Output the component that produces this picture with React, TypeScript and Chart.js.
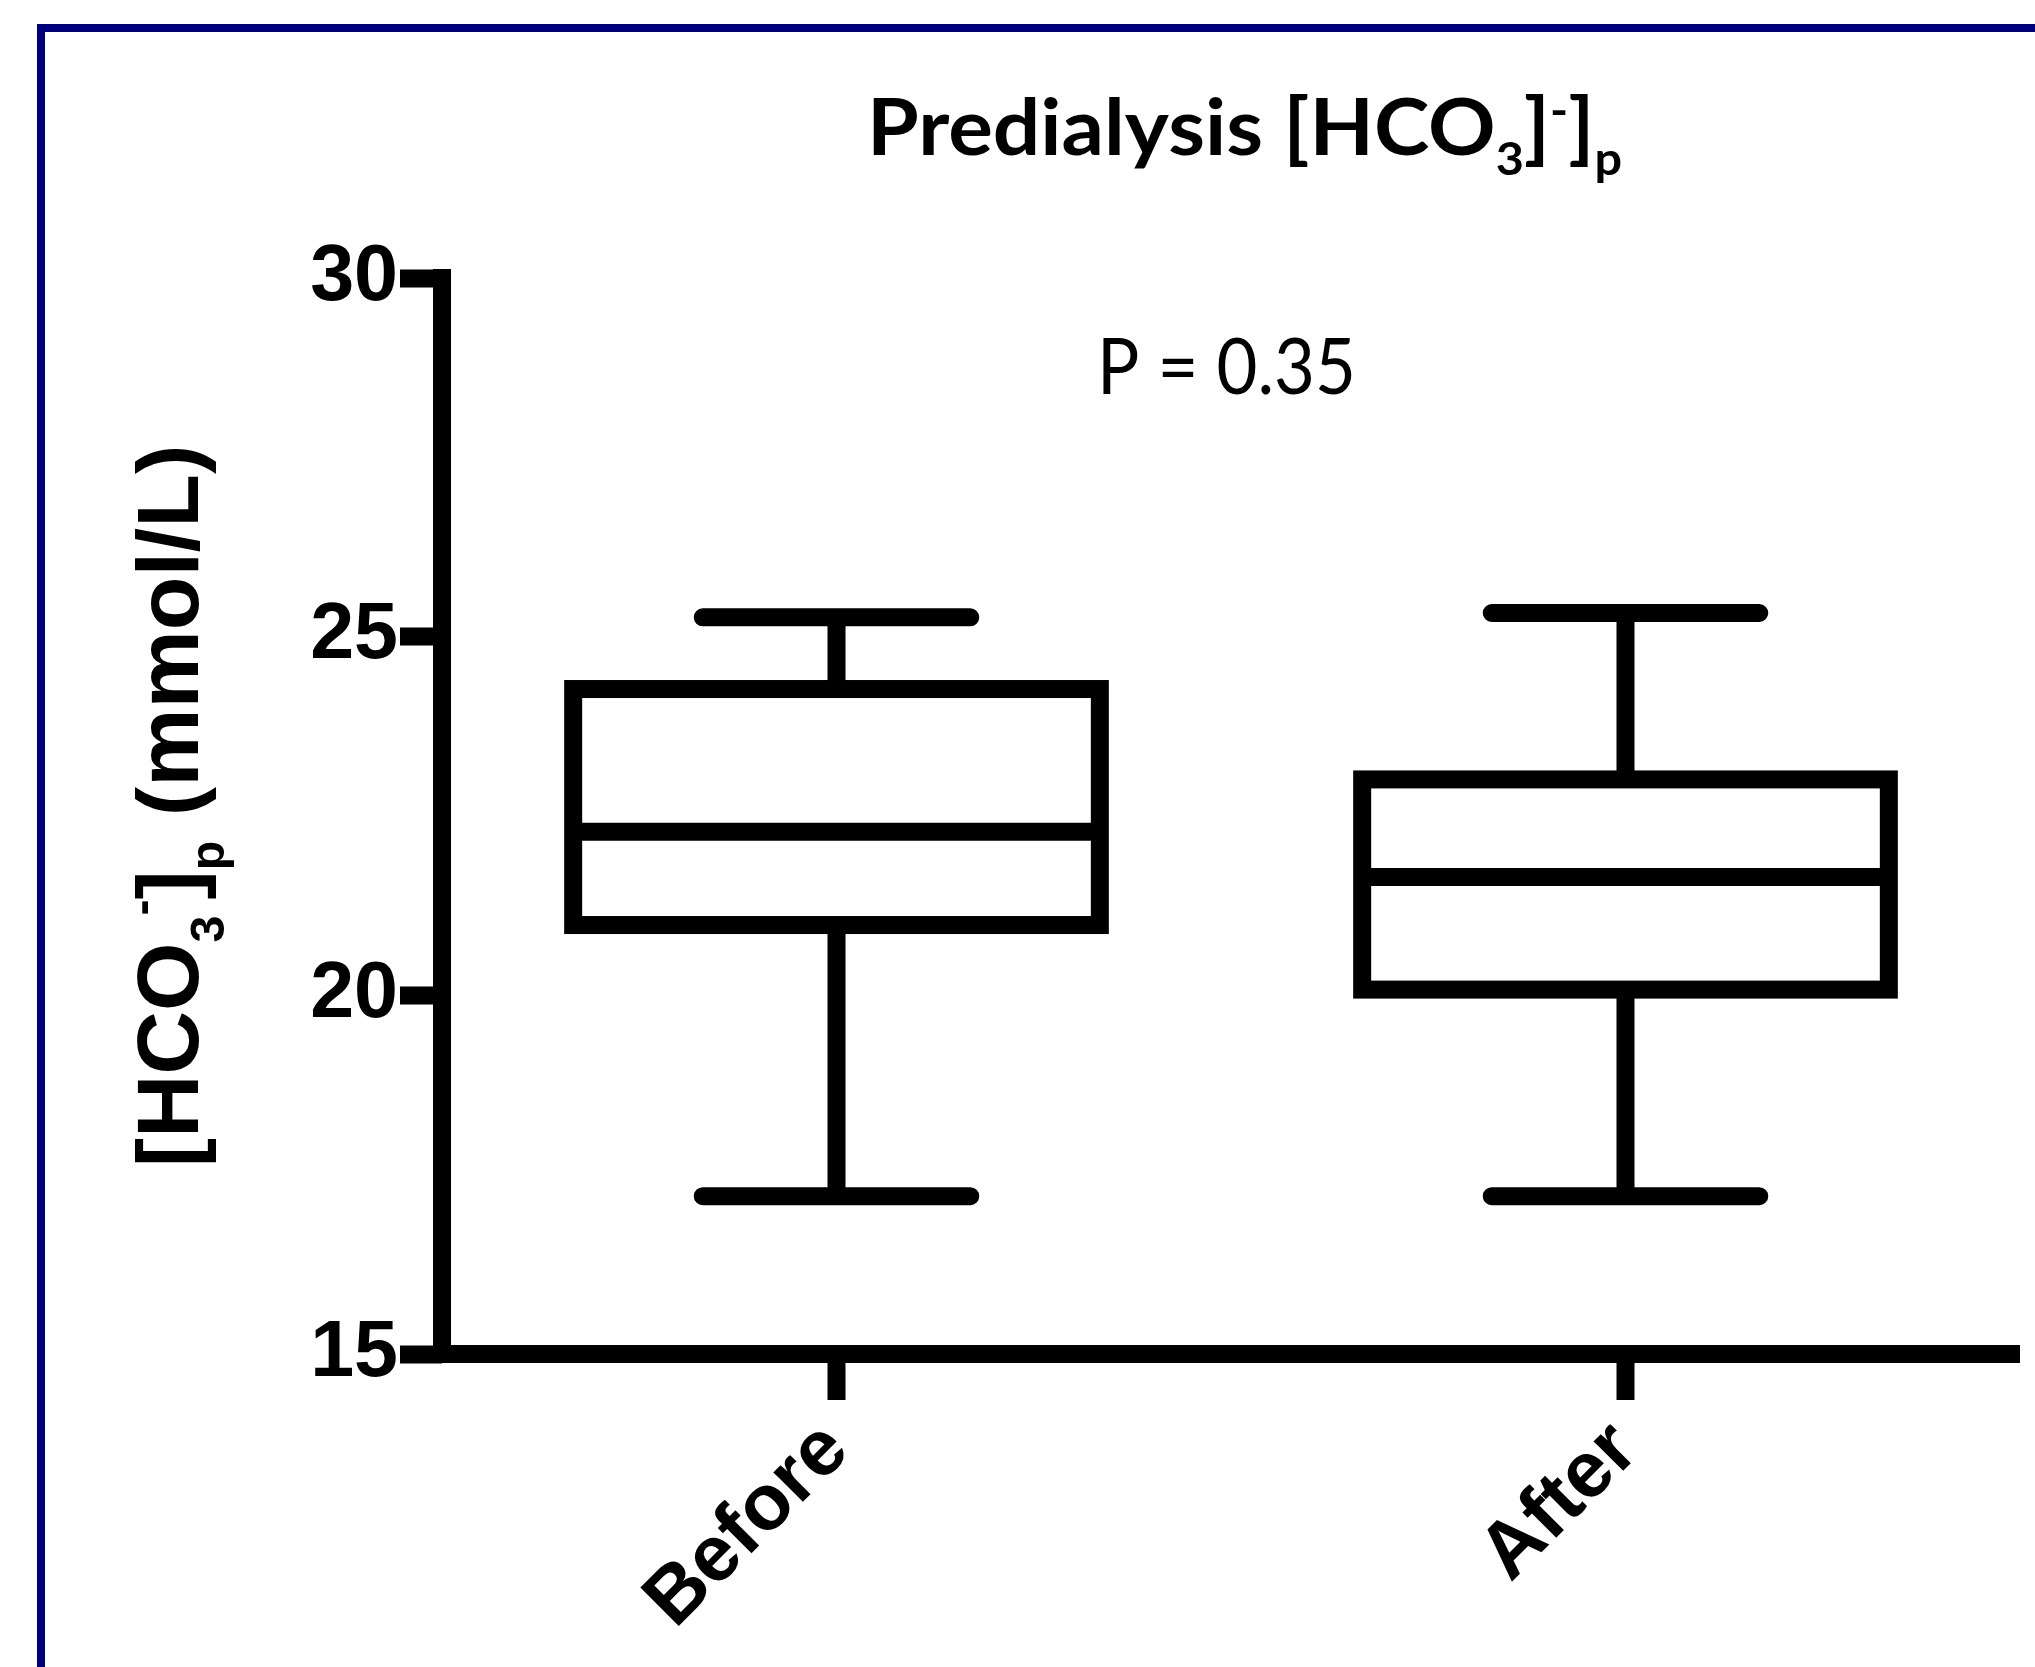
import React, { useEffect, useRef } from "react";
import { Chart, registerables } from "chart.js";

Chart.register(...registerables);

// ---------- data ----------
const categories = ["Before", "After"];
const whiskerMin = [17.2, 17.2];
const quartile1 = [20.98, 20.08];
const medians = [22.28, 21.65];
const quartile3 = [24.27, 23.01];
const whiskerMax = [25.27, 25.33];
const yTickValues = [15, 20, 25, 30];
const yMin = 15;
const yMax = 30;

type Part = { text: string; kind: "n" | "sub" | "sup" };
const titleParts: Part[] = [
  { text: "Predialysis [HCO", kind: "n" },
  { text: "3", kind: "sub" },
  { text: "]", kind: "n" },
  { text: "-", kind: "sup" },
  { text: "]", kind: "n" },
  { text: "p", kind: "sub" },
];
const yTitleParts: Part[] = [
  { text: "[HCO", kind: "n" },
  { text: "3", kind: "sub" },
  { text: "-", kind: "sup" },
  { text: "]", kind: "n" },
  { text: "p", kind: "sub" },
  { text: " (mmol/L)", kind: "n" },
];
const pValueText = "P = 0.35";

// ---------- styles ----------
const TITLE_FAMILY = "Lato, 'Open Sans', sans-serif";
const AXIS_FAMILY = "'Liberation Sans', Arial, sans-serif";
const LINE_W = 18;

function partFont(p: Part, size: number, weight: string, family: string, subScale: number) {
  const fs = p.kind === "n" ? size : size * subScale;
  return `${weight} ${fs}px ${family}`;
}

function measureParts(ctx: CanvasRenderingContext2D, parts: Part[], size: number, weight: string, family: string, subScale: number) {
  let w = 0;
  for (const p of parts) {
    ctx.font = partFont(p, size, weight, family, subScale);
    w += ctx.measureText(p.text).width;
  }
  return w;
}

function drawParts(
  ctx: CanvasRenderingContext2D,
  parts: Part[],
  x: number,
  y: number,
  size: number,
  weight: string,
  family: string,
  subScale: number,
  subShift: number,
  supShift: number
) {
  let cx = x;
  ctx.textAlign = "left";
  ctx.textBaseline = "alphabetic";
  for (const p of parts) {
    ctx.font = partFont(p, size, weight, family, subScale);
    const dy = p.kind === "sub" ? size * subShift : p.kind === "sup" ? -size * supShift : 0;
    ctx.fillText(p.text, cx, y + dy);
    cx += ctx.measureText(p.text).width;
  }
}

const framePlugin = {
  id: "frame",
  beforeDraw(chart: any) {
    const ctx = chart.ctx as CanvasRenderingContext2D;
    ctx.save();
    ctx.fillStyle = "#ffffff";
    ctx.fillRect(0, 0, chart.width, chart.height);
    ctx.strokeStyle = "#00007f";
    ctx.lineWidth = 8;
    ctx.strokeRect(41, 28, 5000, 5000);
    ctx.restore();
  },
};

const boxPlugin = {
  id: "boxWhisker",
  afterDatasetsDraw(chart: any) {
    const ctx = chart.ctx as CanvasRenderingContext2D;
    const ys = chart.scales.y;
    const meta = chart.getDatasetMeta(0);
    ctx.save();
    ctx.strokeStyle = "#000";
    ctx.lineWidth = LINE_W;
    meta.data.forEach((bar: any, i: number) => {
      const { x, width } = bar.getProps(["x", "width"], true);
      const left = x - width / 2;
      const right = x + width / 2;
      const yq1 = ys.getPixelForValue(quartile1[i]);
      const yq3 = ys.getPixelForValue(quartile3[i]);
      const ymed = ys.getPixelForValue(medians[i]);
      const ymin = ys.getPixelForValue(whiskerMin[i]);
      const ymax = ys.getPixelForValue(whiskerMax[i]);
      // whiskers
      ctx.lineCap = "butt";
      ctx.beginPath();
      ctx.moveTo(x, yq3);
      ctx.lineTo(x, ymax);
      ctx.moveTo(x, yq1);
      ctx.lineTo(x, ymin);
      ctx.stroke();
      // caps
      const capHalf = width * 0.254;
      ctx.lineCap = "round";
      ctx.beginPath();
      ctx.moveTo(x - capHalf, ymax);
      ctx.lineTo(x + capHalf, ymax);
      ctx.moveTo(x - capHalf, ymin);
      ctx.lineTo(x + capHalf, ymin);
      ctx.stroke();
      // box
      ctx.lineCap = "butt";
      ctx.lineJoin = "miter";
      ctx.strokeRect(left, yq3, width, yq1 - yq3);
      // median
      ctx.beginPath();
      ctx.moveTo(left, ymed);
      ctx.lineTo(right, ymed);
      ctx.stroke();
    });
    ctx.restore();
  },
};

const axesAndTextPlugin = {
  id: "axesAndText",
  afterDraw(chart: any) {
    const ctx = chart.ctx as CanvasRenderingContext2D;
    const area = chart.chartArea;
    ctx.save();
    // axis lines
    ctx.strokeStyle = "#000";
    ctx.lineWidth = LINE_W;
    ctx.lineCap = "square";
    ctx.beginPath();
    ctx.moveTo(area.left, area.top);
    ctx.lineTo(area.left, area.bottom);
    ctx.stroke();
    ctx.lineCap = "butt";
    ctx.beginPath();
    ctx.moveTo(area.left - LINE_W / 2, area.bottom);
    ctx.lineTo(area.right, area.bottom);
    ctx.stroke();

    ctx.fillStyle = "#000";
    // title
    {
      const size = 78;
      const w = measureParts(ctx, titleParts, size, "bold", TITLE_FAMILY, 0.58);
      const target = 755;
      const sx = target / w;
      ctx.save();
      ctx.translate(1244.5 - target / 2, 155);
      ctx.scale(sx, 1);
      drawParts(ctx, titleParts, 0, 0, size, "bold", TITLE_FAMILY, 0.58, 0.26, 0.36);
      ctx.restore();
    }
    // p value
    {
      const size = 77;
      ctx.font = `normal ${size}px ${TITLE_FAMILY}`;
      const w = ctx.measureText(pValueText).width;
      const target = 259;
      const sx = target / w;
      ctx.save();
      ctx.translate(1226.5 - target / 2, 394);
      ctx.scale(sx, 1);
      ctx.textAlign = "left";
      ctx.textBaseline = "alphabetic";
      ctx.fillText(pValueText, 0, 0);
      ctx.restore();
    }
    // y axis title
    {
      const size = 88;
      const w = measureParts(ctx, yTitleParts, size, "bold", AXIS_FAMILY, 0.55);
      ctx.save();
      ctx.translate(198, 806);
      ctx.rotate(-Math.PI / 2);
      drawParts(ctx, yTitleParts, -w / 2, 0, size, "bold", AXIS_FAMILY, 0.55, 0.3, 0.45);
      ctx.restore();
    }
    ctx.restore();
  },
};

export default function App() {
  const ref = useRef<HTMLCanvasElement>(null);
  useEffect(() => {
    if (!ref.current) return;
    const tickFont = { family: AXIS_FAMILY, size: 79, weight: "bold" as const };
    const chart = new Chart(ref.current, {
      type: "bar",
      data: {
        labels: categories,
        datasets: [
          {
            label: "IQR",
            data: categories.map((_, i) => [quartile1[i], quartile3[i]]) as any,
            backgroundColor: "rgba(0,0,0,0)",
            borderWidth: 0,
            categoryPercentage: 1,
            barPercentage: 0.6675,
          },
        ],
      },
      options: {
        animation: false,
        responsive: false,
        devicePixelRatio: 1,
        layout: { padding: { top: 278, right: 15, left: 0, bottom: 0 } },
        plugins: {
          legend: { display: false },
          tooltip: { enabled: false },
          title: { display: false },
        },
        scales: {
          x: {
            type: "category",
            offset: true,
            grid: {
              offset: false,
              drawOnChartArea: false,
              drawTicks: true,
              tickLength: 46,
              tickWidth: LINE_W,
              tickColor: "#000",
            },
            border: { display: false },
            ticks: {
              color: "#000",
              font: tickFont,
              maxRotation: 45,
              minRotation: 45,
              padding: 4,
            },
            afterFit: (scale: any) => {
              scale.height = 313;
            },
          },
          y: {
            type: "linear",
            min: yMin,
            max: yMax,
            grid: {
              drawOnChartArea: false,
              drawTicks: true,
              tickLength: 42,
              tickWidth: LINE_W,
              tickColor: "#000",
            },
            border: { display: false },
            ticks: {
              color: "#000",
              font: tickFont,
              padding: 2,
              stepSize: 5,
            },
            afterBuildTicks: (scale: any) => {
              scale.ticks = yTickValues.map((v) => ({ value: v }));
            },
            afterFit: (scale: any) => {
              scale.width = 442;
            },
          },
        },
      },
      plugins: [framePlugin, boxPlugin, axesAndTextPlugin],
    });
    let alive = true;
    if ((document as any).fonts && (document as any).fonts.ready) {
      Promise.all([
        (document as any).fonts.load(`bold 78px Lato`),
        (document as any).fonts.load(`normal 77px Lato`),
        (document as any).fonts.load(`bold 79px 'Liberation Sans'`),
      ])
        .catch(() => null)
        .then(() => {
          if (alive) chart.update();
        });
    }
    return () => {
      alive = false;
      chart.destroy();
    };
  }, []);
  return (
    <div style={{ position: "absolute", left: 0, top: 0, width: 2035, height: 1667, background: "#fff" }}>
      <canvas ref={ref} width={2035} height={1667} style={{ display: "block", width: 2035, height: 1667 }} />
    </div>
  );
}
